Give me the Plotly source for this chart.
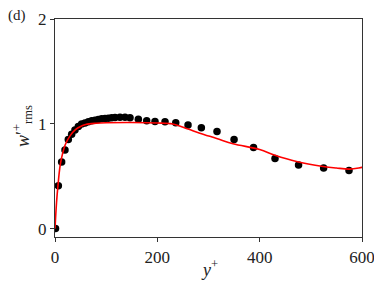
import plotly.graph_objects as go

# DNS data points (black dots)
dns_y = [1, 6.5, 13, 19.5, 26, 32.6, 39, 45.6, 52, 58.6, 65.2, 71.7, 78.2, 84.7, 91.2, 97.7,
         104.2, 110.8, 117.3, 127, 136.8, 146.6, 162.9, 179.2, 195.4, 215, 236, 260, 286,
         316.6, 350, 388, 430, 476, 525, 574.6]
dns_w = [0.0, 0.41, 0.635, 0.75, 0.85, 0.90, 0.94, 0.975, 0.997, 1.007, 1.019, 1.029, 1.035,
         1.041, 1.048, 1.05, 1.054, 1.057, 1.06, 1.063, 1.063, 1.057, 1.044, 1.029, 1.022,
         1.019, 1.01, 0.988, 0.962, 0.927, 0.85, 0.775, 0.67, 0.606, 0.578, 0.555]

# Model curve (red line)
mod_y = [0, 3, 6, 10, 15, 20, 30, 40, 50, 60, 80, 100, 150, 200, 230, 260, 283, 316, 348,
         400, 430, 472, 524, 550, 576, 600, 620]
mod_w = [0.0, 0.25, 0.42, 0.60, 0.72, 0.80, 0.89, 0.945, 0.975, 0.993, 1.005, 1.01, 1.012,
         1.008, 0.998, 0.95, 0.91, 0.86, 0.81, 0.755, 0.70, 0.64, 0.593, 0.578, 0.568, 0.584,
         0.60]

x_ticks = [0, 200, 400, 600]
y_ticks = [0, 1, 2]

font_family = "'Liberation Serif', 'DejaVu Serif', serif"

fig = go.Figure()
fig.add_trace(go.Scatter(x=dns_y, y=dns_w, mode="markers",
                         marker=dict(color="black", size=7.5), showlegend=False))
fig.add_trace(go.Scatter(x=mod_y, y=mod_w, mode="lines", line_shape="spline",
                         line=dict(color="red", width=1.6), showlegend=False))

axis_common = dict(showline=True, linecolor="#333", linewidth=1.2, mirror=True,
                   ticks="outside", ticklen=4, tickcolor="#333", showgrid=False,
                   zeroline=False, automargin=False,
                   tickfont=dict(family=font_family, size=17, color="#222"))

OFF = 8  # page body margin
W, H = 382 - OFF, 286 - OFF
L, R, T, B = 55 - OFF, 20, 19 - OFF, 49
pw, ph = W - L - R, H - T - B


def px(sx):
    return (sx - OFF - L) / pw


def py(sy):
    return (OFF + H - B - sy) / ph


fig.update_layout(
    width=W, height=H,
    margin=dict(l=L, r=R, t=T, b=B, autoexpand=False),
    plot_bgcolor="white", paper_bgcolor="white",
    font=dict(family=font_family),
    xaxis=dict(range=[0, 600], tickvals=x_ticks, **axis_common),
    yaxis=dict(range=[-0.08, 2], tickvals=y_ticks, **axis_common),
    annotations=[
        dict(text="(d)", x=px(17), y=py(16), xref="paper", yref="paper",
             xanchor="center", yanchor="middle", showarrow=False,
             font=dict(family=font_family, size=15, color="#222")),
        dict(text="<i>y</i><sup>+</sup>", x=px(209), y=py(268),
             xref="paper", yref="paper", xanchor="center", yanchor="middle",
             showarrow=False, font=dict(family=font_family, size=18, color="#222")),
        dict(text="<i>w</i>′<sup>+</sup><sub>rms</sub>", x=px(22), y=py(126),
             xref="paper", yref="paper", xanchor="center", yanchor="middle",
             textangle=-90, showarrow=False,
             font=dict(family=font_family, size=18, color="#222")),
    ],
)

fig.write_html("out.html")
